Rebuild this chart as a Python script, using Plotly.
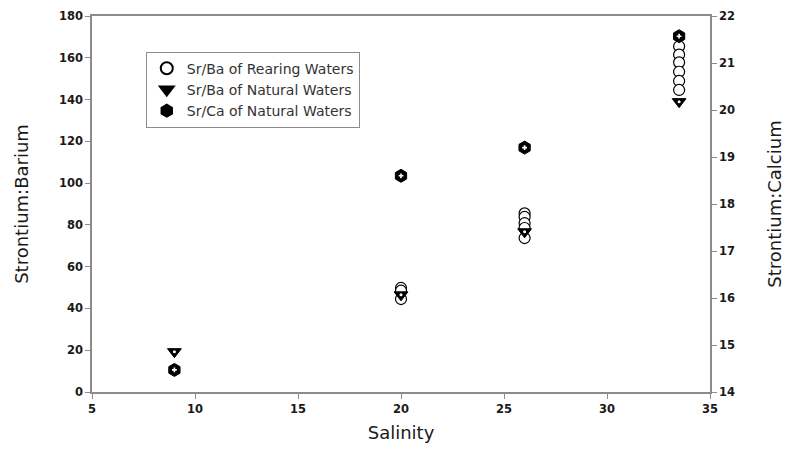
import plotly.graph_objects as go

# Rearing-water Sr/Ba measurements
rearing_salinity = [20, 20, 20, 26, 26, 26, 26, 26, 33.5, 33.5, 33.5, 33.5, 33.5, 33.5]
rearing_sr_ba = [49.8, 48.5, 44.5, 85.5, 83.8, 80.8, 78.5, 73.7,
                 165.5, 161.5, 157.8, 153.3, 148.9, 144.6]

# Natural-water measurements
natural_salinity = [9, 20, 26, 33.5]
natural_sr_ba = [19.3, 46.5, 76.7, 139]
natural_sr_ca = [14.47, 18.6, 19.2, 21.57]

x_ticks = [5, 10, 15, 20, 25, 30, 35]
left_ticks = [0, 20, 40, 60, 80, 100, 120, 140, 160, 180]
right_ticks = [14, 15, 16, 17, 18, 19, 20, 21, 22]

FONT = "DejaVu Sans, Liberation Sans, sans-serif"
AXIS_GRAY = "#8c8c8c"
TEXT = "#1a1a1a"

fig = go.Figure()

fig.add_trace(go.Scatter(
    x=rearing_salinity, y=rearing_sr_ba, mode="markers",
    name="Sr/Ba of Rearing Waters",
    marker=dict(symbol="circle", size=11, color="white",
                line=dict(color="black", width=1.2)),
))
fig.add_trace(go.Scatter(
    x=natural_salinity, y=natural_sr_ba, mode="markers",
    name="Sr/Ba of Natural Waters",
    marker=dict(symbol="triangle-down", size=12, color="black",
                line=dict(color="black", width=1)),
))
fig.add_trace(go.Scatter(
    x=natural_salinity, y=natural_sr_ca, mode="markers", yaxis="y2",
    name="Sr/Ca of Natural Waters",
    marker=dict(symbol="hexagon", size=13, color="black",
                line=dict(color="black", width=1)),
))
# small white centres on the filled markers
fig.add_trace(go.Scatter(
    x=natural_salinity, y=natural_sr_ba, mode="markers", showlegend=False,
    hoverinfo="skip",
    marker=dict(symbol="circle", size=3, color="white"),
))
fig.add_trace(go.Scatter(
    x=natural_salinity, y=natural_sr_ca, mode="markers", yaxis="y2",
    showlegend=False, hoverinfo="skip",
    marker=dict(symbol="cross", size=4, color="white"),
))

axis_common = dict(
    showgrid=False, zeroline=False, showline=True, linecolor=AXIS_GRAY,
    linewidth=1.5, ticks="outside", ticklen=5, tickcolor=AXIS_GRAY,
    tickfont=dict(family=FONT, size=11.5, color=TEXT, weight="bold"),
    automargin=False,
)
title_font = dict(family=FONT, size=18, color=TEXT)

fig.update_layout(
    width=787, height=455,
    margin=dict(l=92, r=77, t=16, b=63),
    paper_bgcolor="white", plot_bgcolor="white",
    showlegend=True,
    legend=dict(
        x=0.087, y=0.905, xanchor="left", yanchor="top",
        bgcolor="white", bordercolor=AXIS_GRAY, borderwidth=1,
        font=dict(family=FONT, size=14, color="#333333"),
        tracegroupgap=0, itemsizing="constant",
    ),
    xaxis=dict(
        range=[5, 35], tickvals=x_ticks, mirror=True,
        title=dict(text="Salinity", font=title_font, standoff=12),
        **axis_common,
    ),
    yaxis=dict(
        range=[0, 180], tickvals=left_ticks,
        title=dict(text="Strontium:Barium", font=title_font, standoff=26),
        **axis_common,
    ),
    yaxis2=dict(
        range=[14, 22], tickvals=right_ticks, overlaying="y", side="right",
        title=dict(text="Strontium:Calcium", font=title_font, standoff=34),
        **axis_common,
    ),
)

fig.write_html("out.html")
